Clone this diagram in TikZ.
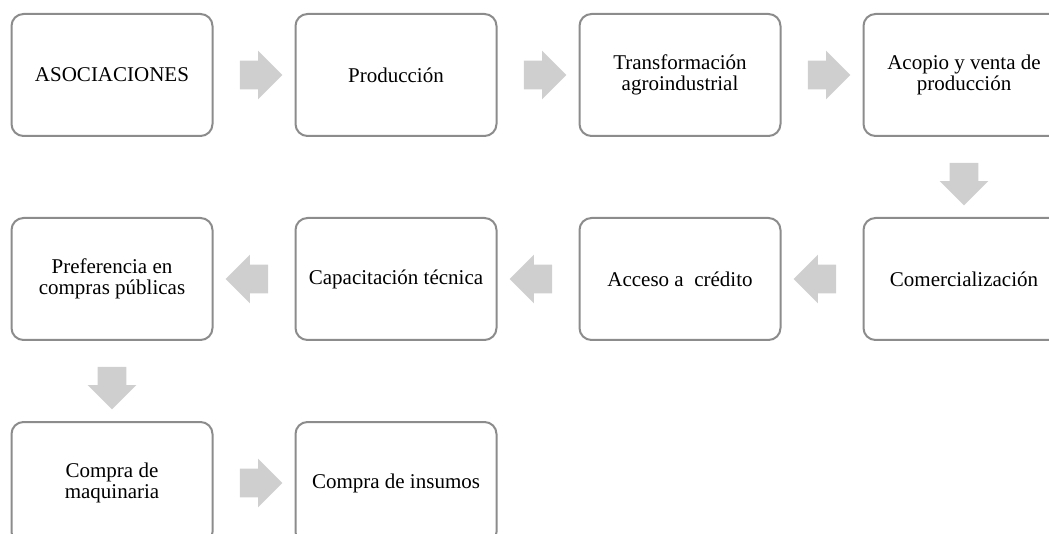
\documentclass[tikz,border=0pt]{standalone}
\usepackage{fontspec}
\setmainfont{Liberation Serif}
\usetikzlibrary{positioning,calc,shapes.arrows}

\colorlet{BoxBorder}{black!45}
\colorlet{ArrowFill}{black!19}

\tikzset{
  etapa/.style={draw=BoxBorder, line width=1.5pt, rounded corners=9pt,
    fill=white, minimum width=150.75pt, minimum height=91.5pt, align=center,
    font=\fontsize{15.75}{15.6}\selectfont},
  flecha/.style={single arrow, fill=ArrowFill, draw=none, inner xsep=0pt,
    inner ysep=10.5pt, minimum height=32pt, single arrow head extend=7.5pt}
}

\begin{document}
\begin{tikzpicture}[node distance=60pt and 60.75pt]

\useasboundingbox (0,0) rectangle (786.75pt,-400.5pt);

% Primera fila
\node[etapa] (asoc) at (84pt,-56.25pt) {ASOCIACIONES};
\node[etapa, right=of asoc] (prod) {Producción};
\node[etapa, right=of prod] (transf) {Transformación\\agroindustrial};
\node[etapa, right=of transf] (acopio) {Acopio y venta de\\producción};

% Segunda fila
\node[etapa, below=of acopio] (comerc) {Comercialización};
\node[etapa, left=of comerc] (credito) {Acceso a\ \ crédito};
\node[etapa, left=of credito] (capac) {Capacitación técnica};
\node[etapa, left=of capac] (prefer) {Preferencia en\\compras públicas};

% Tercera fila
\node[etapa, below=of prefer] (maquin) {Compra de\\maquinaria};
\node[etapa, right=of maquin] (insumos) {Compra de insumos};

% Flechas
\node[flecha] (f1) at ($(asoc.east)!0.5!(prod.west)$) {};
\node[flecha] (f2) at ($(prod.east)!0.5!(transf.west)$) {};
\node[flecha] (f3) at ($(transf.east)!0.5!(acopio.west)$) {};
\node[flecha, rotate=-90] (f4) at ($(acopio.south)!0.5!(comerc.north)$) {};
\node[flecha, rotate=180] (f5) at ($(comerc.west)!0.5!(credito.east)$) {};
\node[flecha, rotate=180] (f6) at ($(credito.west)!0.5!(capac.east)$) {};
\node[flecha, rotate=180] (f7) at ($(capac.west)!0.5!(prefer.east)$) {};
\node[flecha, rotate=-90] (f8) at ($(prefer.south)!0.5!(maquin.north)$) {};
\node[flecha] (f9) at ($(maquin.east)!0.5!(insumos.west)$) {};

\end{tikzpicture}
\end{document}
